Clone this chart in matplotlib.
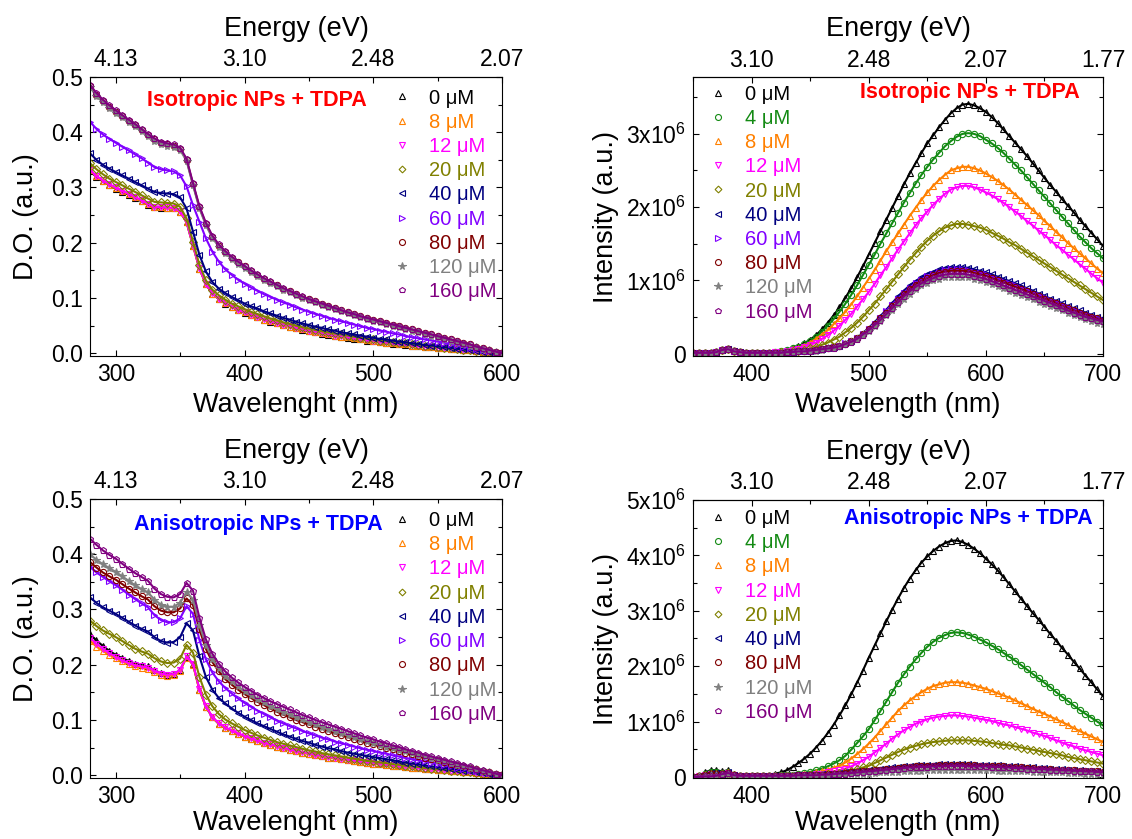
import matplotlib
matplotlib.use("Agg")
import matplotlib.pyplot as plt
from matplotlib.lines import Line2D
from matplotlib.ticker import MultipleLocator, FixedLocator, FuncFormatter

plt.rcParams['font.family'] = ['Liberation Sans', 'DejaVu Sans']
plt.rcParams['mathtext.fontset'] = 'custom'
plt.rcParams['mathtext.rm'] = 'Liberation Sans'
plt.rcParams['mathtext.it'] = 'Liberation Sans:italic'
plt.rcParams['mathtext.bf'] = 'Liberation Sans:bold'

# ---------------------------------------------------------------- data
WL_ABS = list(range(280, 601, 5))      # nm
WL_PL = list(range(350, 701, 5))       # nm

ABS_TICKS = [300, 400, 500, 600]
ABS_EV = ['4.13', '3.10', '2.48', '2.07']
PL_TICKS = [400, 500, 600, 700]
PL_EV = ['3.10', '2.48', '2.07', '1.77']

# Absorbance, isotropic NPs + TDPA (D.O.)
iso_abs_0 = [0.330, 0.319, 0.311, 0.304, 0.298, 0.292, 0.287, 0.281, 0.275, 0.269,
             0.264, 0.263, 0.263, 0.262, 0.256, 0.237, 0.195, 0.153, 0.125, 0.108,
             0.098, 0.090, 0.084, 0.078, 0.073, 0.069, 0.065, 0.061, 0.057, 0.054,
             0.051, 0.048, 0.045, 0.042, 0.040, 0.038, 0.035, 0.033, 0.031, 0.030,
             0.028, 0.026, 0.025, 0.023, 0.022, 0.020, 0.019, 0.017, 0.016, 0.015,
             0.014, 0.013, 0.012, 0.011, 0.010, 0.009, 0.008, 0.007, 0.006, 0.005,
             0.004, 0.003, 0.002, 0.001, 0.000]
iso_abs_8 = [0.331, 0.320, 0.312, 0.305, 0.299, 0.293, 0.288, 0.282, 0.276, 0.270,
             0.265, 0.264, 0.263, 0.262, 0.256, 0.237, 0.195, 0.153, 0.125, 0.108,
             0.098, 0.091, 0.084, 0.079, 0.074, 0.069, 0.065, 0.061, 0.058, 0.055,
             0.051, 0.048, 0.046, 0.043, 0.041, 0.038, 0.036, 0.034, 0.032, 0.030,
             0.029, 0.027, 0.025, 0.024, 0.022, 0.021, 0.019, 0.018, 0.017, 0.016,
             0.014, 0.013, 0.012, 0.011, 0.010, 0.009, 0.008, 0.007, 0.006, 0.005,
             0.004, 0.003, 0.002, 0.001, 0.000]
iso_abs_12 = [0.332, 0.321, 0.313, 0.306, 0.300, 0.294, 0.289, 0.283, 0.277, 0.271,
              0.265, 0.264, 0.264, 0.263, 0.257, 0.238, 0.196, 0.154, 0.126, 0.109,
              0.099, 0.091, 0.085, 0.079, 0.074, 0.070, 0.066, 0.062, 0.058, 0.055,
              0.052, 0.049, 0.046, 0.043, 0.041, 0.039, 0.036, 0.034, 0.032, 0.031,
              0.029, 0.027, 0.026, 0.024, 0.023, 0.021, 0.020, 0.018, 0.017, 0.016,
              0.015, 0.013, 0.012, 0.011, 0.010, 0.009, 0.008, 0.007, 0.006, 0.005,
              0.004, 0.003, 0.002, 0.001, 0.000]
iso_abs_20 = [0.344, 0.333, 0.324, 0.316, 0.310, 0.304, 0.298, 0.292, 0.286, 0.280,
              0.274, 0.273, 0.272, 0.271, 0.265, 0.244, 0.202, 0.160, 0.132, 0.115,
              0.105, 0.097, 0.090, 0.085, 0.080, 0.075, 0.071, 0.067, 0.063, 0.060,
              0.056, 0.053, 0.050, 0.047, 0.045, 0.042, 0.040, 0.038, 0.036, 0.034,
              0.032, 0.030, 0.028, 0.026, 0.025, 0.023, 0.022, 0.020, 0.019, 0.018,
              0.016, 0.015, 0.014, 0.013, 0.011, 0.010, 0.009, 0.008, 0.006, 0.005,
              0.004, 0.003, 0.002, 0.001, 0.000]
iso_abs_40 = [0.362, 0.350, 0.341, 0.334, 0.328, 0.322, 0.316, 0.310, 0.304, 0.298,
              0.292, 0.290, 0.289, 0.288, 0.282, 0.262, 0.220, 0.178, 0.148, 0.129,
              0.117, 0.109, 0.102, 0.096, 0.090, 0.085, 0.081, 0.076, 0.072, 0.068,
              0.064, 0.061, 0.057, 0.054, 0.051, 0.048, 0.046, 0.043, 0.041, 0.038,
              0.036, 0.034, 0.032, 0.030, 0.028, 0.026, 0.025, 0.023, 0.021, 0.020,
              0.018, 0.017, 0.015, 0.014, 0.013, 0.011, 0.010, 0.008, 0.007, 0.006,
              0.004, 0.003, 0.002, 0.001, 0.000]
iso_abs_60 = [0.419, 0.406, 0.396, 0.388, 0.381, 0.374, 0.367, 0.360, 0.353, 0.345,
              0.337, 0.333, 0.331, 0.329, 0.322, 0.302, 0.268, 0.238, 0.208, 0.184,
              0.166, 0.152, 0.142, 0.133, 0.126, 0.119, 0.113, 0.107, 0.102, 0.097,
              0.092, 0.088, 0.083, 0.079, 0.075, 0.071, 0.068, 0.064, 0.061, 0.058,
              0.055, 0.052, 0.049, 0.046, 0.044, 0.041, 0.039, 0.036, 0.034, 0.031,
              0.029, 0.027, 0.025, 0.023, 0.021, 0.019, 0.017, 0.015, 0.012, 0.010,
              0.008, 0.006, 0.004, 0.002, 0.000]
iso_abs_80 = [0.483, 0.468, 0.456, 0.446, 0.437, 0.429, 0.421, 0.413, 0.404, 0.395,
              0.387, 0.381, 0.378, 0.376, 0.370, 0.350, 0.306, 0.264, 0.234, 0.211,
              0.195, 0.183, 0.173, 0.165, 0.157, 0.149, 0.142, 0.135, 0.129, 0.123,
              0.117, 0.112, 0.107, 0.102, 0.098, 0.094, 0.090, 0.086, 0.082, 0.078,
              0.074, 0.071, 0.067, 0.064, 0.061, 0.058, 0.055, 0.052, 0.049, 0.046,
              0.043, 0.040, 0.037, 0.034, 0.031, 0.028, 0.025, 0.022, 0.019, 0.016,
              0.012, 0.009, 0.006, 0.003, 0.000]
iso_abs_120 = [0.481, 0.466, 0.454, 0.444, 0.435, 0.427, 0.419, 0.411, 0.402, 0.393,
               0.385, 0.379, 0.376, 0.374, 0.368, 0.348, 0.304, 0.262, 0.232, 0.209,
               0.193, 0.181, 0.171, 0.162, 0.154, 0.147, 0.140, 0.133, 0.127, 0.121,
               0.115, 0.110, 0.105, 0.100, 0.096, 0.092, 0.088, 0.084, 0.080, 0.076,
               0.072, 0.069, 0.065, 0.062, 0.059, 0.056, 0.053, 0.050, 0.047, 0.044,
               0.041, 0.038, 0.035, 0.032, 0.029, 0.026, 0.023, 0.020, 0.017, 0.014,
               0.011, 0.008, 0.005, 0.002, 0.000]
iso_abs_160 = [0.486, 0.471, 0.459, 0.449, 0.440, 0.431, 0.423, 0.415, 0.406, 0.397,
               0.389, 0.383, 0.380, 0.378, 0.372, 0.352, 0.308, 0.266, 0.236, 0.213,
               0.197, 0.185, 0.175, 0.166, 0.158, 0.150, 0.143, 0.136, 0.130, 0.124,
               0.118, 0.113, 0.108, 0.103, 0.098, 0.094, 0.090, 0.086, 0.082, 0.078,
               0.074, 0.071, 0.067, 0.064, 0.061, 0.058, 0.055, 0.052, 0.049, 0.046,
               0.043, 0.040, 0.037, 0.034, 0.031, 0.028, 0.025, 0.022, 0.019, 0.016,
               0.012, 0.009, 0.006, 0.003, 0.000]

# Absorbance, anisotropic NPs + TDPA (D.O.)
aniso_abs_0 = [0.255, 0.244, 0.234, 0.225, 0.218, 0.212, 0.207, 0.202, 0.199, 0.197,
               0.190, 0.185, 0.182, 0.183, 0.190, 0.214, 0.201, 0.155, 0.124, 0.105,
               0.093, 0.086, 0.080, 0.075, 0.070, 0.066, 0.062, 0.058, 0.055, 0.052,
               0.049, 0.046, 0.043, 0.041, 0.039, 0.036, 0.034, 0.032, 0.031, 0.029,
               0.027, 0.026, 0.024, 0.023, 0.021, 0.020, 0.019, 0.017, 0.016, 0.015,
               0.014, 0.013, 0.012, 0.011, 0.010, 0.009, 0.008, 0.007, 0.006, 0.005,
               0.004, 0.003, 0.002, 0.001, 0.000]
aniso_abs_8 = [0.243, 0.233, 0.225, 0.218, 0.212, 0.206, 0.201, 0.197, 0.195, 0.193,
               0.187, 0.182, 0.180, 0.181, 0.189, 0.213, 0.200, 0.154, 0.124, 0.105,
               0.093, 0.086, 0.080, 0.075, 0.070, 0.066, 0.062, 0.058, 0.055, 0.052,
               0.049, 0.046, 0.043, 0.041, 0.039, 0.036, 0.034, 0.032, 0.031, 0.029,
               0.027, 0.026, 0.024, 0.023, 0.021, 0.020, 0.019, 0.017, 0.016, 0.015,
               0.014, 0.013, 0.012, 0.011, 0.010, 0.009, 0.008, 0.007, 0.006, 0.005,
               0.004, 0.003, 0.002, 0.001, 0.000]
aniso_abs_12 = [0.249, 0.238, 0.229, 0.221, 0.214, 0.208, 0.203, 0.199, 0.197, 0.195,
                0.189, 0.184, 0.182, 0.183, 0.191, 0.215, 0.202, 0.156, 0.125, 0.106,
                0.094, 0.087, 0.081, 0.076, 0.071, 0.067, 0.063, 0.059, 0.056, 0.053,
                0.050, 0.047, 0.044, 0.042, 0.040, 0.037, 0.035, 0.033, 0.032, 0.030,
                0.028, 0.027, 0.025, 0.024, 0.022, 0.021, 0.020, 0.018, 0.017, 0.016,
                0.015, 0.013, 0.012, 0.011, 0.010, 0.009, 0.008, 0.007, 0.006, 0.005,
                0.004, 0.003, 0.002, 0.001, 0.000]
aniso_abs_20 = [0.280, 0.270, 0.262, 0.256, 0.250, 0.243, 0.236, 0.229, 0.224, 0.220,
                0.212, 0.206, 0.203, 0.204, 0.211, 0.236, 0.222, 0.178, 0.146, 0.125,
                0.111, 0.101, 0.094, 0.088, 0.082, 0.077, 0.072, 0.068, 0.064, 0.060,
                0.057, 0.054, 0.051, 0.048, 0.045, 0.043, 0.040, 0.038, 0.036, 0.034,
                0.032, 0.030, 0.028, 0.026, 0.025, 0.023, 0.022, 0.020, 0.019, 0.017,
                0.016, 0.015, 0.013, 0.012, 0.011, 0.010, 0.008, 0.007, 0.006, 0.005,
                0.004, 0.003, 0.002, 0.001, 0.000]
aniso_abs_40 = [0.322, 0.312, 0.304, 0.298, 0.292, 0.285, 0.278, 0.271, 0.265, 0.260,
                0.250, 0.243, 0.240, 0.241, 0.250, 0.275, 0.262, 0.215, 0.178, 0.155,
                0.140, 0.130, 0.121, 0.113, 0.106, 0.100, 0.094, 0.089, 0.084, 0.079,
                0.074, 0.070, 0.066, 0.062, 0.059, 0.055, 0.052, 0.049, 0.047, 0.044,
                0.041, 0.039, 0.037, 0.035, 0.033, 0.031, 0.029, 0.027, 0.025, 0.023,
                0.021, 0.020, 0.018, 0.016, 0.015, 0.013, 0.012, 0.010, 0.008, 0.007,
                0.005, 0.004, 0.003, 0.001, 0.000]
aniso_abs_60 = [0.377, 0.367, 0.359, 0.351, 0.344, 0.336, 0.327, 0.319, 0.311, 0.304,
                0.290, 0.281, 0.277, 0.277, 0.284, 0.306, 0.292, 0.245, 0.210, 0.186,
                0.170, 0.158, 0.148, 0.139, 0.131, 0.124, 0.117, 0.111, 0.105, 0.099,
                0.094, 0.089, 0.085, 0.080, 0.076, 0.072, 0.068, 0.065, 0.061, 0.058,
                0.055, 0.052, 0.049, 0.046, 0.044, 0.041, 0.039, 0.036, 0.034, 0.031,
                0.029, 0.027, 0.025, 0.023, 0.021, 0.019, 0.016, 0.014, 0.012, 0.010,
                0.008, 0.006, 0.004, 0.002, 0.000]
aniso_abs_80 = [0.386, 0.376, 0.367, 0.360, 0.354, 0.346, 0.338, 0.331, 0.324, 0.318,
                0.306, 0.298, 0.295, 0.295, 0.302, 0.320, 0.308, 0.264, 0.229, 0.205,
                0.188, 0.174, 0.164, 0.155, 0.147, 0.140, 0.133, 0.127, 0.121, 0.115,
                0.110, 0.105, 0.100, 0.096, 0.092, 0.088, 0.084, 0.080, 0.076, 0.073,
                0.069, 0.066, 0.062, 0.059, 0.056, 0.053, 0.050, 0.047, 0.044, 0.041,
                0.038, 0.035, 0.032, 0.030, 0.027, 0.024, 0.021, 0.019, 0.016, 0.013,
                0.011, 0.008, 0.005, 0.003, 0.000]
aniso_abs_120 = [0.400, 0.390, 0.382, 0.375, 0.368, 0.360, 0.352, 0.344, 0.337, 0.331,
                 0.318, 0.309, 0.305, 0.305, 0.312, 0.332, 0.318, 0.272, 0.236, 0.211,
                 0.194, 0.180, 0.170, 0.161, 0.152, 0.145, 0.138, 0.132, 0.126, 0.120,
                 0.115, 0.110, 0.105, 0.101, 0.096, 0.092, 0.088, 0.084, 0.080, 0.076,
                 0.072, 0.069, 0.065, 0.062, 0.058, 0.055, 0.052, 0.049, 0.046, 0.043,
                 0.040, 0.037, 0.034, 0.031, 0.028, 0.025, 0.022, 0.019, 0.017, 0.014,
                 0.011, 0.008, 0.005, 0.003, 0.000]
aniso_abs_160 = [0.428, 0.417, 0.407, 0.399, 0.392, 0.383, 0.374, 0.366, 0.359, 0.352,
                 0.338, 0.328, 0.323, 0.322, 0.328, 0.348, 0.334, 0.285, 0.246, 0.220,
                 0.202, 0.188, 0.177, 0.168, 0.160, 0.153, 0.146, 0.140, 0.134, 0.129,
                 0.124, 0.119, 0.114, 0.109, 0.105, 0.100, 0.096, 0.092, 0.088, 0.084,
                 0.080, 0.076, 0.072, 0.068, 0.065, 0.061, 0.058, 0.054, 0.051, 0.047,
                 0.044, 0.041, 0.037, 0.034, 0.031, 0.028, 0.025, 0.022, 0.019, 0.016,
                 0.012, 0.009, 0.006, 0.003, 0.000]

# Photoluminescence, isotropic NPs + TDPA (intensity in units of 10^6)
iso_pl_0 = [0.01, 0.01, 0.01, 0.01, 0.02, 0.05, 0.06, 0.03, 0.02, 0.01,
            0.01, 0.01, 0.01, 0.01, 0.02, 0.03, 0.05, 0.07, 0.10, 0.14,
            0.19, 0.25, 0.33, 0.42, 0.52, 0.63, 0.76, 0.89, 1.04, 1.19,
            1.35, 1.51, 1.67, 1.83, 1.99, 2.15, 2.31, 2.46, 2.60, 2.74,
            2.87, 2.98, 3.09, 3.19, 3.28, 3.35, 3.40, 3.41, 3.39, 3.35,
            3.30, 3.23, 3.15, 3.06, 2.97, 2.88, 2.79, 2.70, 2.60, 2.50,
            2.40, 2.30, 2.21, 2.11, 2.02, 1.93, 1.83, 1.74, 1.65, 1.56,
            1.47]
iso_pl_4 = [0.01, 0.01, 0.01, 0.01, 0.02, 0.05, 0.06, 0.03, 0.02, 0.01,
            0.01, 0.01, 0.01, 0.01, 0.02, 0.03, 0.05, 0.07, 0.09, 0.13,
            0.17, 0.23, 0.30, 0.38, 0.47, 0.57, 0.68, 0.80, 0.93, 1.07,
            1.21, 1.35, 1.50, 1.64, 1.78, 1.92, 2.06, 2.19, 2.32, 2.44,
            2.55, 2.65, 2.74, 2.83, 2.90, 2.96, 3.00, 3.01, 3.00, 2.97,
            2.92, 2.87, 2.81, 2.74, 2.66, 2.58, 2.50, 2.41, 2.32, 2.23,
            2.14, 2.05, 1.96, 1.87, 1.78, 1.69, 1.60, 1.52, 1.44, 1.37,
            1.30]
iso_pl_8 = [0.01, 0.01, 0.01, 0.01, 0.02, 0.05, 0.06, 0.03, 0.02, 0.01,
            0.01, 0.01, 0.01, 0.01, 0.02, 0.03, 0.04, 0.06, 0.08, 0.11,
            0.15, 0.20, 0.26, 0.32, 0.40, 0.48, 0.57, 0.67, 0.78, 0.90,
            1.02, 1.14, 1.27, 1.40, 1.52, 1.64, 1.76, 1.88, 1.99, 2.10,
            2.20, 2.29, 2.37, 2.44, 2.50, 2.53, 2.55, 2.55, 2.53, 2.50,
            2.46, 2.41, 2.36, 2.30, 2.24, 2.17, 2.10, 2.03, 1.96, 1.89,
            1.81, 1.74, 1.66, 1.59, 1.51, 1.44, 1.37, 1.30, 1.23, 1.16,
            1.10]
iso_pl_12 = [0.01, 0.01, 0.01, 0.01, 0.02, 0.05, 0.06, 0.03, 0.02, 0.01,
             0.01, 0.01, 0.01, 0.01, 0.02, 0.02, 0.03, 0.05, 0.06, 0.09,
             0.12, 0.15, 0.20, 0.25, 0.31, 0.38, 0.46, 0.54, 0.64, 0.74,
             0.84, 0.95, 1.07, 1.18, 1.30, 1.42, 1.53, 1.64, 1.75, 1.85,
             1.94, 2.03, 2.11, 2.18, 2.24, 2.27, 2.29, 2.29, 2.27, 2.24,
             2.20, 2.16, 2.11, 2.06, 2.00, 1.94, 1.88, 1.81, 1.75, 1.68,
             1.62, 1.55, 1.48, 1.42, 1.35, 1.29, 1.22, 1.16, 1.09, 1.03,
             0.97]
iso_pl_20 = [0.01, 0.01, 0.01, 0.01, 0.02, 0.05, 0.06, 0.03, 0.02, 0.01,
             0.01, 0.01, 0.01, 0.01, 0.01, 0.02, 0.02, 0.03, 0.04, 0.05,
             0.07, 0.09, 0.12, 0.15, 0.19, 0.23, 0.29, 0.35, 0.42, 0.50,
             0.59, 0.68, 0.78, 0.88, 0.98, 1.08, 1.18, 1.28, 1.37, 1.46,
             1.54, 1.61, 1.67, 1.72, 1.75, 1.77, 1.77, 1.76, 1.74, 1.72,
             1.69, 1.65, 1.61, 1.57, 1.52, 1.48, 1.43, 1.38, 1.33, 1.28,
             1.23, 1.18, 1.13, 1.08, 1.03, 0.98, 0.93, 0.88, 0.83, 0.78,
             0.73]
iso_pl_40 = [0.01, 0.01, 0.01, 0.01, 0.02, 0.05, 0.06, 0.03, 0.02, 0.01,
             0.01, 0.01, 0.01, 0.01, 0.01, 0.01, 0.02, 0.02, 0.03, 0.03,
             0.04, 0.05, 0.06, 0.07, 0.09, 0.11, 0.14, 0.17, 0.22, 0.28,
             0.35, 0.43, 0.51, 0.60, 0.69, 0.78, 0.86, 0.93, 0.99, 1.04,
             1.09, 1.12, 1.15, 1.17, 1.18, 1.18, 1.18, 1.17, 1.15, 1.13,
             1.11, 1.08, 1.05, 1.02, 0.99, 0.96, 0.93, 0.89, 0.86, 0.82,
             0.79, 0.75, 0.72, 0.69, 0.65, 0.62, 0.59, 0.56, 0.53, 0.50,
             0.48]
iso_pl_60 = [0.01, 0.01, 0.01, 0.01, 0.02, 0.05, 0.06, 0.03, 0.02, 0.01,
             0.01, 0.01, 0.01, 0.01, 0.01, 0.01, 0.02, 0.02, 0.03, 0.03,
             0.04, 0.05, 0.06, 0.07, 0.09, 0.11, 0.14, 0.17, 0.21, 0.27,
             0.34, 0.41, 0.49, 0.58, 0.67, 0.75, 0.83, 0.90, 0.96, 1.01,
             1.06, 1.09, 1.12, 1.14, 1.15, 1.15, 1.15, 1.14, 1.12, 1.10,
             1.08, 1.05, 1.02, 0.99, 0.96, 0.93, 0.90, 0.87, 0.83, 0.80,
             0.77, 0.73, 0.70, 0.67, 0.63, 0.60, 0.57, 0.54, 0.51, 0.49,
             0.46]
iso_pl_80 = [0.01, 0.01, 0.01, 0.01, 0.02, 0.05, 0.06, 0.03, 0.02, 0.01,
             0.01, 0.01, 0.01, 0.01, 0.01, 0.01, 0.02, 0.02, 0.03, 0.03,
             0.04, 0.05, 0.06, 0.07, 0.09, 0.11, 0.13, 0.17, 0.21, 0.27,
             0.33, 0.40, 0.48, 0.56, 0.65, 0.73, 0.81, 0.88, 0.94, 0.99,
             1.03, 1.07, 1.10, 1.12, 1.13, 1.13, 1.13, 1.12, 1.10, 1.08,
             1.06, 1.03, 1.00, 0.97, 0.94, 0.91, 0.88, 0.85, 0.82, 0.78,
             0.75, 0.72, 0.69, 0.65, 0.62, 0.59, 0.56, 0.53, 0.50, 0.48,
             0.45]
iso_pl_120 = [0.01, 0.01, 0.01, 0.01, 0.02, 0.05, 0.06, 0.03, 0.02, 0.01,
              0.01, 0.01, 0.01, 0.01, 0.01, 0.01, 0.02, 0.02, 0.03, 0.03,
              0.04, 0.04, 0.05, 0.07, 0.08, 0.10, 0.13, 0.16, 0.20, 0.25,
              0.31, 0.37, 0.44, 0.52, 0.60, 0.68, 0.75, 0.82, 0.88, 0.93,
              0.97, 1.00, 1.02, 1.04, 1.05, 1.05, 1.05, 1.04, 1.02, 1.00,
              0.98, 0.95, 0.92, 0.89, 0.86, 0.83, 0.80, 0.77, 0.74, 0.71,
              0.68, 0.65, 0.62, 0.59, 0.56, 0.53, 0.50, 0.47, 0.45, 0.42,
              0.40]
iso_pl_160 = [0.01, 0.01, 0.01, 0.01, 0.02, 0.05, 0.06, 0.03, 0.02, 0.01,
              0.01, 0.01, 0.01, 0.01, 0.01, 0.01, 0.02, 0.02, 0.03, 0.03,
              0.04, 0.05, 0.06, 0.07, 0.08, 0.10, 0.13, 0.16, 0.20, 0.26,
              0.32, 0.39, 0.46, 0.54, 0.62, 0.70, 0.78, 0.85, 0.91, 0.96,
              1.00, 1.03, 1.06, 1.08, 1.09, 1.09, 1.09, 1.08, 1.06, 1.04,
              1.02, 0.99, 0.96, 0.93, 0.90, 0.87, 0.84, 0.81, 0.78, 0.75,
              0.72, 0.69, 0.66, 0.62, 0.59, 0.56, 0.53, 0.50, 0.48, 0.46,
              0.44]

# Photoluminescence, anisotropic NPs + TDPA (intensity in units of 10^6)
aniso_pl_0 = [0.00, 0.02, 0.08, 0.12, 0.12, 0.10, 0.12, 0.05, 0.03, 0.02,
              0.02, 0.02, 0.03, 0.04, 0.06, 0.08, 0.12, 0.18, 0.25, 0.33,
              0.42, 0.53, 0.65, 0.79, 0.94, 1.11, 1.29, 1.49, 1.70, 1.92,
              2.15, 2.37, 2.59, 2.81, 3.02, 3.22, 3.41, 3.58, 3.73, 3.87,
              3.98, 4.08, 4.16, 4.22, 4.26, 4.27, 4.24, 4.19, 4.12, 4.04,
              3.94, 3.84, 3.73, 3.61, 3.48, 3.35, 3.22, 3.09, 2.96, 2.84,
              2.71, 2.58, 2.46, 2.33, 2.21, 2.08, 1.96, 1.83, 1.71, 1.58,
              1.46]
aniso_pl_4 = [0.00, 0.01, 0.05, 0.08, 0.08, 0.07, 0.09, 0.04, 0.02, 0.02,
              0.02, 0.02, 0.02, 0.02, 0.02, 0.03, 0.03, 0.04, 0.05, 0.07,
              0.09, 0.12, 0.15, 0.19, 0.24, 0.30, 0.38, 0.49, 0.61, 0.73,
              0.86, 1.02, 1.19, 1.36, 1.53, 1.70, 1.85, 1.99, 2.12, 2.24,
              2.35, 2.44, 2.51, 2.56, 2.60, 2.61, 2.60, 2.57, 2.53, 2.48,
              2.43, 2.37, 2.31, 2.24, 2.17, 2.10, 2.02, 1.94, 1.86, 1.78,
              1.70, 1.62, 1.53, 1.45, 1.37, 1.29, 1.21, 1.14, 1.07, 1.00,
              0.93]
aniso_pl_8 = [0.00, 0.01, 0.04, 0.07, 0.07, 0.06, 0.08, 0.04, 0.02, 0.02,
              0.02, 0.02, 0.02, 0.02, 0.02, 0.02, 0.03, 0.03, 0.04, 0.05,
              0.06, 0.08, 0.10, 0.13, 0.16, 0.20, 0.26, 0.33, 0.41, 0.50,
              0.60, 0.71, 0.83, 0.95, 1.07, 1.19, 1.29, 1.38, 1.46, 1.53,
              1.59, 1.64, 1.67, 1.70, 1.71, 1.71, 1.70, 1.68, 1.65, 1.62,
              1.59, 1.55, 1.51, 1.47, 1.43, 1.38, 1.33, 1.28, 1.23, 1.18,
              1.14, 1.09, 1.04, 0.99, 0.94, 0.88, 0.83, 0.78, 0.73, 0.68,
              0.63]
aniso_pl_12 = [0.00, 0.01, 0.04, 0.06, 0.06, 0.05, 0.07, 0.03, 0.02, 0.02,
               0.02, 0.02, 0.02, 0.02, 0.01, 0.02, 0.02, 0.02, 0.03, 0.03,
               0.04, 0.05, 0.06, 0.08, 0.10, 0.12, 0.15, 0.19, 0.24, 0.30,
               0.36, 0.44, 0.52, 0.60, 0.69, 0.77, 0.84, 0.90, 0.96, 1.00,
               1.04, 1.07, 1.09, 1.10, 1.11, 1.11, 1.10, 1.09, 1.07, 1.05,
               1.03, 1.01, 0.98, 0.95, 0.93, 0.90, 0.87, 0.84, 0.80, 0.77,
               0.74, 0.70, 0.66, 0.62, 0.58, 0.55, 0.51, 0.48, 0.45, 0.42,
               0.39]
aniso_pl_20 = [0.00, 0.01, 0.03, 0.05, 0.05, 0.05, 0.06, 0.03, 0.02, 0.02,
               0.02, 0.02, 0.01, 0.01, 0.01, 0.01, 0.01, 0.02, 0.02, 0.02,
               0.03, 0.03, 0.04, 0.05, 0.06, 0.07, 0.09, 0.11, 0.14, 0.17,
               0.20, 0.25, 0.30, 0.35, 0.40, 0.45, 0.49, 0.53, 0.56, 0.59,
               0.61, 0.63, 0.64, 0.65, 0.66, 0.66, 0.66, 0.66, 0.65, 0.64,
               0.63, 0.61, 0.60, 0.58, 0.57, 0.55, 0.53, 0.51, 0.49, 0.47,
               0.45, 0.43, 0.41, 0.39, 0.36, 0.34, 0.32, 0.30, 0.28, 0.26,
               0.24]
aniso_pl_40 = [0.00, 0.01, 0.04, 0.07, 0.07, 0.06, 0.08, 0.03, 0.02, 0.02,
               0.02, 0.02, 0.02, 0.02, 0.02, 0.02, 0.02, 0.03, 0.03, 0.03,
               0.04, 0.04, 0.05, 0.05, 0.06, 0.07, 0.08, 0.09, 0.10, 0.11,
               0.12, 0.13, 0.15, 0.16, 0.17, 0.18, 0.19, 0.20, 0.21, 0.21,
               0.22, 0.22, 0.23, 0.23, 0.23, 0.23, 0.23, 0.23, 0.22, 0.22,
               0.22, 0.21, 0.21, 0.20, 0.20, 0.19, 0.18, 0.18, 0.17, 0.16,
               0.16, 0.15, 0.14, 0.14, 0.13, 0.12, 0.12, 0.11, 0.11, 0.10,
               0.10]
aniso_pl_80 = [0.00, 0.01, 0.03, 0.05, 0.05, 0.05, 0.07, 0.03, 0.02, 0.02,
               0.02, 0.02, 0.02, 0.02, 0.02, 0.02, 0.02, 0.02, 0.03, 0.03,
               0.03, 0.04, 0.04, 0.05, 0.06, 0.06, 0.07, 0.08, 0.09, 0.10,
               0.11, 0.12, 0.13, 0.14, 0.15, 0.16, 0.17, 0.18, 0.19, 0.19,
               0.20, 0.20, 0.21, 0.21, 0.21, 0.21, 0.21, 0.21, 0.21, 0.20,
               0.20, 0.20, 0.19, 0.19, 0.18, 0.18, 0.17, 0.16, 0.16, 0.15,
               0.15, 0.14, 0.13, 0.13, 0.12, 0.12, 0.11, 0.11, 0.10, 0.10,
               0.09]
aniso_pl_120 = [0.00, 0.01, 0.02, 0.03, 0.03, 0.03, 0.05, 0.02, 0.01, 0.01,
                0.01, 0.01, 0.01, 0.01, 0.01, 0.01, 0.01, 0.02, 0.02, 0.02,
                0.02, 0.02, 0.03, 0.03, 0.03, 0.04, 0.04, 0.05, 0.05, 0.06,
                0.06, 0.07, 0.08, 0.08, 0.09, 0.09, 0.10, 0.10, 0.11, 0.11,
                0.12, 0.12, 0.12, 0.12, 0.13, 0.13, 0.13, 0.13, 0.12, 0.12,
                0.12, 0.12, 0.11, 0.11, 0.11, 0.10, 0.10, 0.10, 0.09, 0.09,
                0.09, 0.08, 0.08, 0.08, 0.07, 0.07, 0.07, 0.06, 0.06, 0.06,
                0.06]
aniso_pl_160 = [0.00, 0.00, 0.01, 0.01, 0.02, 0.05, 0.07, 0.03, 0.02, 0.02,
                0.02, 0.02, 0.02, 0.02, 0.02, 0.02, 0.02, 0.02, 0.03, 0.03,
                0.03, 0.03, 0.04, 0.04, 0.05, 0.06, 0.06, 0.07, 0.08, 0.09,
                0.10, 0.11, 0.12, 0.13, 0.14, 0.15, 0.16, 0.17, 0.17, 0.18,
                0.18, 0.19, 0.19, 0.19, 0.20, 0.20, 0.20, 0.19, 0.19, 0.19,
                0.19, 0.18, 0.18, 0.17, 0.17, 0.16, 0.16, 0.15, 0.15, 0.14,
                0.14, 0.13, 0.13, 0.12, 0.12, 0.11, 0.11, 0.10, 0.10, 0.09,
                0.09]

# ---------------------------------------------------------------- styling
STYLE = {   # concentration (µM): (colour, marker)
    0: ('#000000', '^'),
    4: ('#138a13', 'o'),
    8: ('#ff8000', '^'),
    12: ('#ff00ff', 'v'),
    20: ('#808000', 'D'),
    40: ('#000080', '<'),
    60: ('#8000ff', '>'),
    80: ('#800000', 'o'),
    120: ('#808080', '*'),
    160: ('#800080', 'p'),
}

FIG_W, FIG_H = 1132, 839
fig = plt.figure(figsize=(FIG_W / 100, FIG_H / 100), dpi=100)


def px_box(left, top, right, bottom):
    return [left / FIG_W, 1 - bottom / FIG_H, (right - left) / FIG_W, (bottom - top) / FIG_H]


def marker_kw(conc, ms):
    color, marker = STYLE[conc]
    size = ms * 0.8 if marker == 'D' else ms * 1.3 if marker == '*' else ms
    face = color if marker == '*' else 'none'
    return dict(color=color, marker=marker, markersize=size, markeredgewidth=0.8,
                markerfacecolor=face, markeredgecolor=color)


def draw_series(ax, x, series):
    for conc, y in series:
        ax.plot(x, y, lw=1.5, **marker_kw(conc, 4.5))


def add_legend(ax, concs, anchor_px):
    handles = [Line2D([], [], linestyle='none', **marker_kw(c, 4.3)) for c in concs]
    labels = [f'{c} μM' for c in concs]
    leg = ax.legend(handles, labels, loc='upper left',
                    bbox_to_anchor=(anchor_px[0] / FIG_W, 1 - anchor_px[1] / FIG_H),
                    bbox_transform=fig.transFigure, frameon=False, fontsize=14.5,
                    borderpad=0, borderaxespad=0, handlelength=0.8,
                    handletextpad=0.95, labelspacing=0.26, numpoints=1)
    for text, c in zip(leg.get_texts(), concs):
        text.set_color(STYLE[c][0])
    return leg


def style_axes(ax, xlim, ylim, xticks, ev_labels, xlabel, ylabel, ymajor, yminor,
               yfmt, ylabelpad, xlabelpad):
    ax.set_xlim(*xlim)
    ax.set_ylim(*ylim)
    ax.xaxis.set_major_locator(FixedLocator(xticks))
    ax.xaxis.set_minor_locator(MultipleLocator(50))
    ax.yaxis.set_major_locator(MultipleLocator(ymajor))
    ax.yaxis.set_minor_locator(MultipleLocator(yminor))
    ax.yaxis.set_major_formatter(FuncFormatter(yfmt))
    ax.tick_params(which='both', direction='in', top=False, right=True,
                   width=0.8, labelsize=16.5, pad=5)
    ax.tick_params(which='major', length=4.5)
    ax.tick_params(which='minor', length=3)
    for sp in ax.spines.values():
        sp.set_linewidth(0.8)
    ax.set_xlabel(xlabel, fontsize=19.5, labelpad=xlabelpad)
    ax.set_ylabel(ylabel, fontsize=19.5, labelpad=ylabelpad)

    top = ax.secondary_xaxis('top')
    top.set_xticks(xticks, labels=ev_labels)
    top.xaxis.set_minor_locator(MultipleLocator(50))
    top.tick_params(which='both', direction='in', width=0.8, labelsize=16.5, pad=4)
    top.tick_params(which='major', length=4.5)
    top.tick_params(which='minor', length=3)
    top.spines['top'].set_linewidth(0.8)
    top.set_xlabel('Energy (eV)', fontsize=19.5, labelpad=9)


def fmt_abs(v, pos):
    return f'{v:.1f}'


def fmt_pl(v, pos):
    n = int(round(v))
    return '0' if n == 0 else f'{n}x10$^{{6}}$'


ABS_CONCS = [0, 8, 12, 20, 40, 60, 80, 120, 160]
ISO_PL_CONCS = [0, 4, 8, 12, 20, 40, 60, 80, 120, 160]
ANISO_PL_CONCS = [0, 4, 8, 12, 20, 40, 80, 120, 160]

# ---- top left: absorbance, isotropic
ax1 = fig.add_axes(px_box(90, 77, 502, 356))
draw_series(ax1, WL_ABS, [(0, iso_abs_0), (8, iso_abs_8), (12, iso_abs_12),
                          (20, iso_abs_20), (40, iso_abs_40), (60, iso_abs_60),
                          (80, iso_abs_80), (120, iso_abs_120), (160, iso_abs_160)])
style_axes(ax1, (280, 600), (-0.005, 0.5), ABS_TICKS, ABS_EV, 'Wavelenght (nm)',
           'D.O. (a.u.)', 0.1, 0.05, fmt_abs, 9, 4)
add_legend(ax1, ABS_CONCS, (394, 88.5))
ax1.text(0.405, 0.914, 'Isotropic NPs + TDPA', transform=ax1.transAxes, color='#ff0000',
         fontsize=15.5, fontweight='bold', ha='center', va='center')

# ---- top right: photoluminescence, isotropic
ax2 = fig.add_axes(px_box(693, 77.5, 1103, 356.5))
draw_series(ax2, WL_PL, [(0, iso_pl_0), (4, iso_pl_4), (8, iso_pl_8), (12, iso_pl_12),
                         (20, iso_pl_20), (40, iso_pl_40), (60, iso_pl_60),
                         (80, iso_pl_80), (120, iso_pl_120), (160, iso_pl_160)])
style_axes(ax2, (350, 700), (-0.04, 3.77), PL_TICKS, PL_EV, 'Wavelength (nm)',
           'Intensity (a.u.)', 1, 0.5, fmt_pl, 5, 4)
add_legend(ax2, ISO_PL_CONCS, (710, 84.6))
ax2.text(0.676, 0.948, 'Isotropic NPs + TDPA', transform=ax2.transAxes, color='#ff0000',
         fontsize=15.5, fontweight='bold', ha='center', va='center')

# ---- bottom left: absorbance, anisotropic
ax3 = fig.add_axes(px_box(90, 499, 502, 778))
draw_series(ax3, WL_ABS, [(0, aniso_abs_0), (8, aniso_abs_8), (12, aniso_abs_12),
                          (20, aniso_abs_20), (40, aniso_abs_40), (60, aniso_abs_60),
                          (80, aniso_abs_80), (120, aniso_abs_120), (160, aniso_abs_160)])
style_axes(ax3, (280, 600), (-0.005, 0.5), ABS_TICKS, ABS_EV, 'Wavelenght (nm)',
           'D.O. (a.u.)', 0.1, 0.05, fmt_abs, 9, 1.5)
add_legend(ax3, ABS_CONCS, (394, 511))
ax3.text(0.408, 0.907, 'Anisotropic NPs + TDPA', transform=ax3.transAxes, color='#0000ff',
         fontsize=15.5, fontweight='bold', ha='center', va='center')

# ---- bottom right: photoluminescence, anisotropic
ax4 = fig.add_axes(px_box(693, 500, 1103, 778))
draw_series(ax4, WL_PL, [(0, aniso_pl_0), (4, aniso_pl_4), (8, aniso_pl_8),
                         (12, aniso_pl_12), (20, aniso_pl_20), (40, aniso_pl_40),
                         (80, aniso_pl_80), (120, aniso_pl_120), (160, aniso_pl_160)])
style_axes(ax4, (350, 700), (-0.02, 5.0), PL_TICKS, PL_EV, 'Wavelength (nm)',
           'Intensity (a.u.)', 1, 0.5, fmt_pl, 5, 1.5)
add_legend(ax4, ANISO_PL_CONCS, (710, 509))
ax4.text(0.671, 0.932, 'Anisotropic NPs + TDPA', transform=ax4.transAxes, color='#0000ff',
         fontsize=15.5, fontweight='bold', ha='center', va='center')

fig.savefig('out.png', dpi=100)
